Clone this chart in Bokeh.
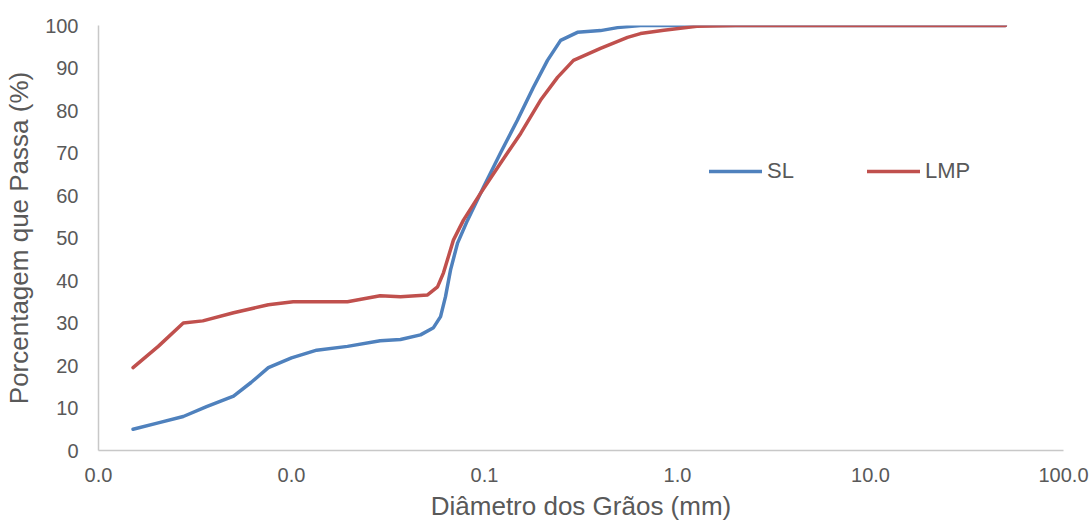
from bokeh.plotting import figure
from bokeh.models import ColumnDataSource, FixedTicker, CustomJSTickFormatter, Legend, LegendItem, Range1d
from bokeh.embed import file_html
from bokeh.resources import INLINE

# Grain diameter (mm) and percent passing
sl_diam = [0.00151, 0.00204, 0.00275, 0.00363, 0.00501, 0.00617, 0.00759, 0.0100, 0.0135,
           0.0195, 0.0288, 0.0367, 0.0466, 0.0544, 0.0592, 0.0628, 0.0667, 0.0725, 0.0817,
           0.0989, 0.121, 0.148, 0.179, 0.212, 0.248, 0.303, 0.399, 0.489, 0.643, 1.0,
           2.0, 10.0, 50.0]
sl_pass = [5.0, 6.5, 8.0, 10.3, 12.8, 16.0, 19.5, 21.8, 23.6,
           24.5, 25.8, 26.1, 27.2, 28.9, 31.5, 36.2, 42.5, 48.8, 54.2,
           62.0, 70.0, 77.7, 85.4, 91.8, 96.5, 98.4, 98.8, 99.5, 100.0, 100.0,
           100.0, 100.0, 100.0]

lmp_diam = [0.00151, 0.00204, 0.00275, 0.00347, 0.00501, 0.00759, 0.0102, 0.0195, 0.0288,
            0.0367, 0.0507, 0.0571, 0.0613, 0.069, 0.0778, 0.0953, 0.121, 0.154, 0.195,
            0.239, 0.289, 0.399, 0.551, 0.643, 0.85, 1.26, 2.0, 10.0, 50.0]
lmp_pass = [19.5, 24.5, 30.0, 30.5, 32.4, 34.3, 35.0, 35.0, 36.4,
            36.2, 36.6, 38.5, 41.8, 49.5, 54.2, 60.5, 67.6, 74.6, 82.4,
            87.8, 91.8, 94.6, 97.2, 98.1, 98.9, 99.8, 100.0, 100.0, 100.0]

x_ticks = [0.001, 0.01, 0.1, 1, 10, 100]
y_ticks = [0, 10, 20, 30, 40, 50, 60, 70, 80, 90, 100]

FONT = "Liberation Sans"
TXT = "#595959"

p = figure(width=1092, height=523, x_axis_type="log", output_backend="svg",
           toolbar_location=None, x_range=Range1d(0.001, 100), y_range=Range1d(0, 100),
           min_border_left=98, min_border_right=29, min_border_top=25, min_border_bottom=72)
p.outline_line_color = None
p.xgrid.visible = False
p.ygrid.visible = False

src_sl = ColumnDataSource(dict(x=sl_diam, y=sl_pass))
src_lmp = ColumnDataSource(dict(x=lmp_diam, y=lmp_pass))
r1 = p.line("x", "y", source=src_sl, line_color="#4F81BD", line_width=3.5, line_join="round", line_cap="round")
r2 = p.line("x", "y", source=src_lmp, line_color="#C0504D", line_width=3.5, line_join="round", line_cap="round")

for ax in (p.xaxis[0], p.yaxis[0]):
    ax.axis_line_color = "#C8C8C8"
    ax.axis_line_width = 1.5
    ax.major_tick_line_color = None
    ax.minor_tick_line_color = None
    ax.major_label_text_font = FONT
    ax.major_label_text_font_size = "20px"
    ax.major_label_text_color = TXT
    ax.axis_label_text_font = FONT
    ax.axis_label_text_font_size = "26px"
    ax.axis_label_text_color = TXT
    ax.axis_label_text_font_style = "normal"

p.xaxis.ticker = FixedTicker(ticks=x_ticks)
p.xaxis.formatter = CustomJSTickFormatter(code="return tick.toFixed(1);")
p.yaxis.ticker = FixedTicker(ticks=y_ticks)
p.xaxis.major_label_standoff = 11
p.yaxis.major_label_standoff = 14
p.xaxis.axis_label = "Diâmetro dos Grãos (mm)"
p.yaxis.axis_label = "Porcentagem que Passa (%)"
p.xaxis.axis_label_standoff = 6
p.yaxis.axis_label_standoff = 8

legend = Legend(items=[LegendItem(label="SL", renderers=[r1]), LegendItem(label="LMP", renderers=[r2])],
                orientation="horizontal", location=(611, 266))
legend.border_line_color = None
legend.background_fill_alpha = 0
legend.padding = 0
legend.margin = 0
legend.spacing = 73
legend.glyph_width = 53
legend.label_standoff = 5
legend.label_text_font = FONT
legend.label_text_font_size = "22px"
legend.label_text_color = TXT
p.add_layout(legend, "center")

open("out.html", "w").write(file_html(p, INLINE))
